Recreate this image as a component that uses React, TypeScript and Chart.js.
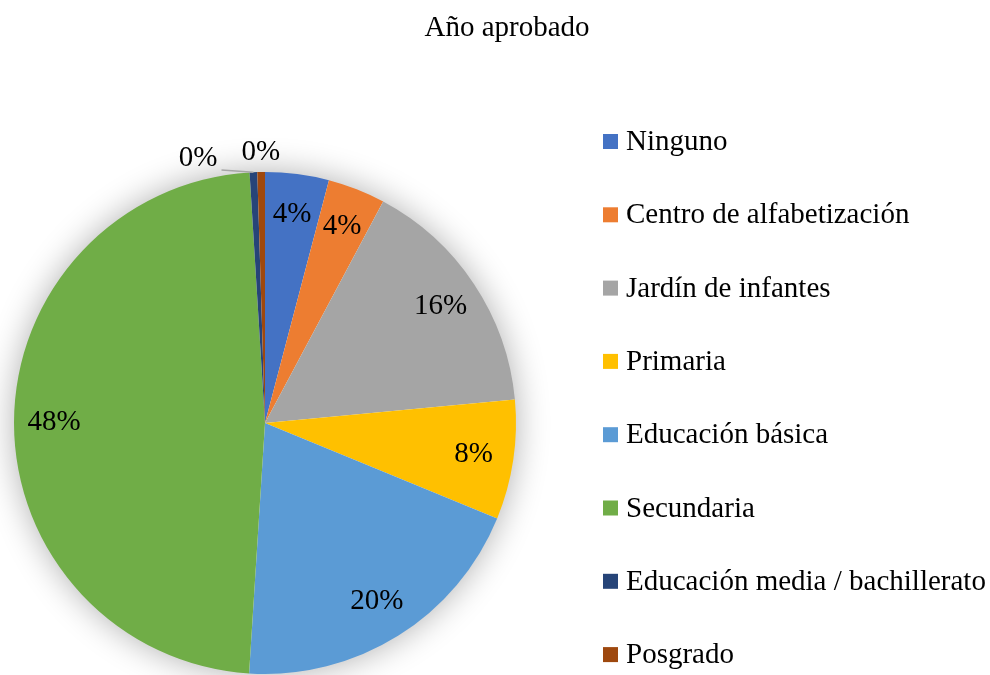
import React, { useEffect, useRef } from "react";
import { Chart, registerables } from "chart.js";

Chart.register(...registerables);

const title = "Año aprobado";
const categories = [
  "Ninguno",
  "Centro de alfabetización",
  "Jardín de infantes",
  "Primaria",
  "Educación básica",
  "Secundaria",
  "Educación media / bachillerato",
  "Posgrado",
];
const percents = [4.1, 3.7, 15.7, 7.7, 19.8, 48.0, 0.49, 0.49];
const colors = [
  "#4472C4",
  "#ED7D31",
  "#A5A5A5",
  "#FFC000",
  "#5B9BD5",
  "#70AD47",
  "#264478",
  "#9E480E",
];

const FONT = "29px 'Liberation Serif', 'Times New Roman', serif";

const shadowPlugin = {
  id: "pieShadow",
  beforeDatasetsDraw(chart: any) {
    const meta = chart.getDatasetMeta(0);
    const arc = meta.data[0];
    if (!arc) return;
    const { x, y, outerRadius } = arc.getProps(["x", "y", "outerRadius"], true);
    const ctx = chart.ctx;
    ctx.save();
    ctx.shadowColor = "rgba(0,0,0,0.33)";
    ctx.shadowBlur = 34;
    ctx.shadowOffsetX = 0;
    ctx.shadowOffsetY = 0;
    ctx.fillStyle = "#ffffff";
    ctx.beginPath();
    ctx.arc(x, y, outerRadius - 1, 0, Math.PI * 2);
    ctx.fill();
    ctx.restore();
  },
};

const labelPlugin = {
  id: "pieLabels",
  afterDatasetsDraw(chart: any) {
    const ctx = chart.ctx;
    const ds = chart.data.datasets[0];
    const vals: number[] = ds.data;
    const total = vals.reduce((a, b) => a + b, 0);
    const meta = chart.getDatasetMeta(0);
    ctx.save();
    ctx.font = FONT;
    ctx.fillStyle = "#000000";
    ctx.textAlign = "center";
    ctx.textBaseline = "middle";
    const outside: any[] = [];
    meta.data.forEach((arc: any, i: number) => {
      const p = arc.getProps(["x", "y", "startAngle", "endAngle", "outerRadius"], true);
      const mid = (p.startAngle + p.endAngle) / 2;
      const pct = (vals[i] / total) * 100;
      const text = Math.round(pct) + "%";
      if (pct < 1.5) {
        const w = ctx.measureText(text).width;
        const r = p.outerRadius + 20;
        outside.push({
          text,
          w,
          x: p.x + Math.cos(mid) * r,
          y: p.y + Math.sin(mid) * r,
          ax: p.x + Math.cos(mid) * p.outerRadius,
          ay: p.y + Math.sin(mid) * p.outerRadius,
          shifted: false,
        });
      } else {
        const r = p.outerRadius * 0.84;
        ctx.fillText(text, p.x + Math.cos(mid) * r, p.y + Math.sin(mid) * r);
      }
    });
    for (let k = outside.length - 2; k >= 0; k--) {
      const a = outside[k];
      const b = outside[k + 1];
      if (a.x + a.w / 2 > b.x - b.w / 2 - 4) {
        a.x = b.x - b.w / 2 - 24 - a.w / 2;
        a.y = b.y + 6;
        a.shifted = true;
      }
    }
    outside.forEach((o) => {
      if (o.shifted) {
        ctx.strokeStyle = "#A6A6A6";
        ctx.lineWidth = 1.5;
        ctx.beginPath();
        ctx.moveTo(o.x + o.w / 2 + 4, o.y + 12);
        ctx.lineTo(o.ax, o.ay);
        ctx.stroke();
      }
      ctx.fillText(o.text, o.x, o.y);
    });
    ctx.restore();
  },
};

const legendPlugin = {
  id: "customLegend",
  afterDraw(chart: any) {
    const ctx = chart.ctx;
    const labels: string[] = chart.data.labels;
    const bg: string[] = chart.data.datasets[0].backgroundColor;
    ctx.save();
    ctx.font = FONT;
    ctx.textAlign = "left";
    ctx.textBaseline = "middle";
    const x0 = 603;
    const y0 = 141.5;
    const step = 73.3;
    labels.forEach((lab, i) => {
      const cy = y0 + i * step;
      ctx.fillStyle = bg[i];
      ctx.fillRect(x0, cy - 7.5, 15, 15);
      ctx.fillStyle = "#000000";
      ctx.fillText(lab, x0 + 23, cy + 1);
    });
    ctx.textAlign = "center";
    ctx.textBaseline = "alphabetic";
    ctx.fillText(title, 507, 36);
    ctx.restore();
  },
};

export default function App() {
  const ref = useRef<HTMLCanvasElement>(null);
  useEffect(() => {
    if (!ref.current) return;
    const chart = new Chart(ref.current, {
      type: "pie",
      data: {
        labels: categories,
        datasets: [
          {
            data: percents,
            backgroundColor: colors,
            borderWidth: 0,
          },
        ],
      },
      options: {
        responsive: false,
        animation: false,
        layout: { padding: { left: 14, right: 474, top: 172, bottom: 1 } },
        plugins: {
          legend: { display: false },
          title: { display: false },
          tooltip: { enabled: false },
        },
      },
      plugins: [shadowPlugin, labelPlugin, legendPlugin],
    });
    return () => chart.destroy();
  }, []);
  return (
    <div style={{ position: "absolute", left: 0, top: 0, width: 990, height: 675, background: "#ffffff" }}>
      <canvas ref={ref} width={990} height={675} style={{ display: "block" }} />
    </div>
  );
}
